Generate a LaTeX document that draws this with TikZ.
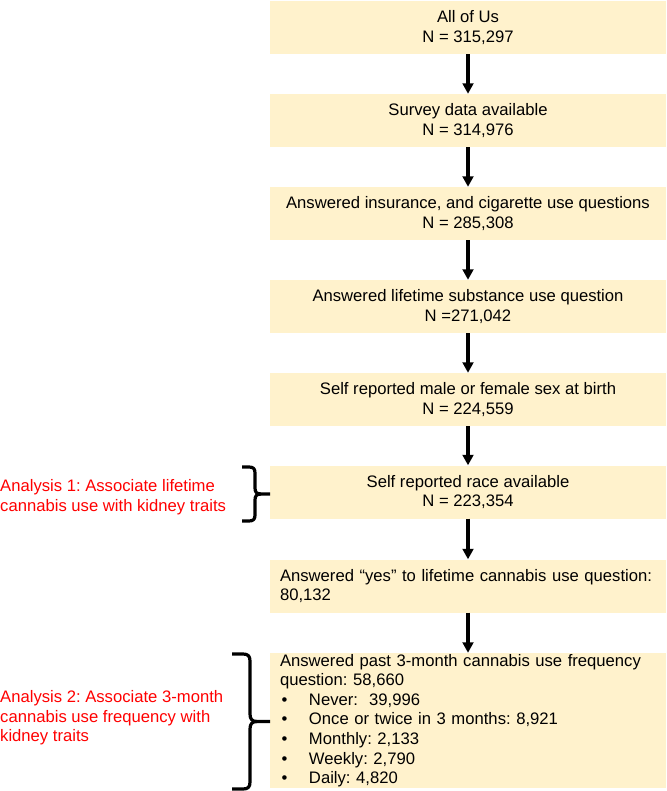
\documentclass[tikz,border=0pt]{standalone}
\usepackage{fontspec}
\setmainfont{Liberation Sans}
\usetikzlibrary{arrows.meta}
\definecolor{boxfill}{HTML}{FFF2CC}
\definecolor{redtext}{HTML}{FF0000}
\newcommand\fs{\fontsize{16.65pt}{19.6pt}\selectfont\frenchspacing}
\newcommand\bul{\makebox[29pt][l]{\hspace{1.5pt}•}}
\begin{document}
\begin{tikzpicture}[x=1pt,y=-1pt,
  box/.style={fill=boxfill, minimum width=396pt, minimum height=53pt, inner sep=0pt, align=center, font=\fs},
  lbox/.style={align=left, text width=376pt, inner xsep=10pt},
  redlabel/.style={text=redtext, font=\fs, align=left, inner sep=0pt, anchor=west},
  arr/.style={line width=3.3pt, -{Triangle[length=10.5pt,width=10.7pt]}},
  bracestyle/.style={line width=3.2pt, line join=round}]
\useasboundingbox (0,0) rectangle (666,791);
\node[box] (b1) at (468,27.5) {All of Us\\N = 315,297};
\node[box] (b2) at (468,120.5) {Survey data available\\N = 314,976};
\node[box] (b3) at (468,213.5) {Answered insurance, and cigarette use questions\\N = 285,308};
\node[box] (b4) at (468,306.5) {Answered lifetime substance use question\\N =271,042};
\node[box] (b5) at (468,399.5) {Self reported male or female sex at birth\\N = 224,559};
\node[box] (b6) at (468,492) {Self reported race available\\N = 223,354};
\node[box, lbox] (b7) at (468,586) {Answered “yes” to lifetime cannabis use question:\\80,132};
\node[box, lbox, minimum height=135pt] (b8) at (468,720.5) {Answered past 3-month cannabis use frequency\\question: 58,660\\\bul Never:\ \ 39,996\\\bul Once or twice in 3 months: 8,921\\\bul Monthly: 2,133\\\bul Weekly: 2,790\\\bul Daily: 4,820};
\draw[arr] (b1.south) -- (b2.north);
\draw[arr] (b2.south) -- (b3.north);
\draw[arr] (b3.south) -- (b4.north);
\draw[arr] (b4.south) -- (b5.north);
\draw[arr] (b5.south) -- (b6.north);
\draw[arr] (b6.south) -- (b7.north);
\draw[arr] (b7.south) -- (b8.north);
\node[redlabel] (a1) at (0,497.4) {Analysis 1: Associate lifetime\\cannabis use with kidney traits};
\node[redlabel] (a2) at (0,717.8) {Analysis 2: Associate 3-month\\cannabis use frequency with\\kidney traits};
% brace 1
\draw[bracestyle] (242,467) -- (249,467) .. controls (253.5,467) and (255,469) .. (255,473)
  -- (255,488) .. controls (255,492) and (256.5,494) .. (261,494) -- (270,494);
\draw[bracestyle] (261,494) .. controls (256.5,494) and (255,496) .. (255,500)
  -- (255,515) .. controls (255,519) and (253.5,521) .. (249,521) -- (242,521);
% brace 2
\draw[bracestyle] (232,654) -- (243,654) .. controls (248,654) and (250,656) .. (250,661)
  -- (250,714) .. controls (250,719) and (252,721.5) .. (257,721.5) -- (270,721.5);
\draw[bracestyle] (257,721.5) .. controls (252,721.5) and (250,724) .. (250,729)
  -- (250,782) .. controls (250,787) and (248,789) .. (243,789) -- (232,789);
\end{tikzpicture}
\end{document}
